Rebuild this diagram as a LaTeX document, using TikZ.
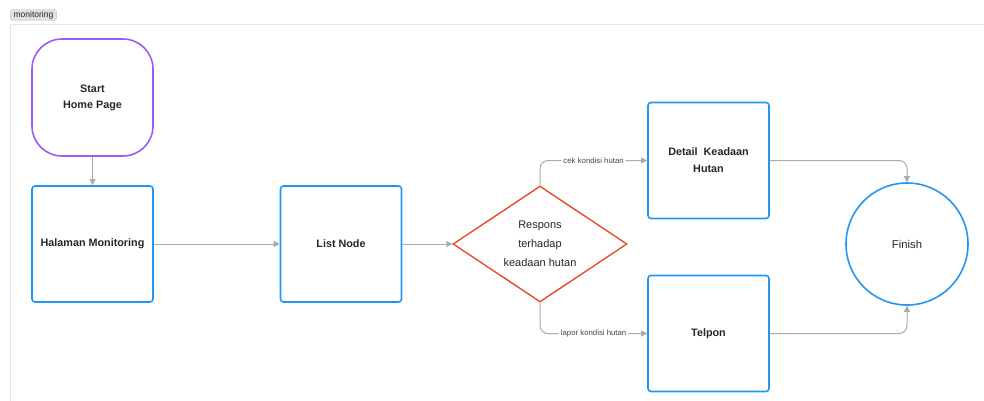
\documentclass[tikz,border=0pt]{standalone}
\usepackage{fontspec}
\setmainfont{Liberation Sans}
\usetikzlibrary{arrows.meta,shapes.geometric}
\definecolor{startpurple}{HTML}{9B5CF6}
\definecolor{boxblue}{HTML}{2196F3}
\definecolor{decred}{HTML}{EB4A2A}
\definecolor{linkgrey}{HTML}{ABABAB}
\definecolor{framegrey}{HTML}{E6E6E6}
\definecolor{txt}{HTML}{262626}
\tikzset{
  x=1pt, y=-1pt,
  every node/.style={text=txt},
  startbox/.style={draw=startpurple, line width=1.6pt, rounded corners=30pt,
    minimum width=121pt, minimum height=117pt, align=center, font=\fontsize{10.8}{16}\selectfont\bfseries},
  procbox/.style={draw=boxblue, line width=1.6pt, rounded corners=3pt,
    minimum width=121pt, minimum height=116pt, align=center, font=\fontsize{10.8}{17}\selectfont\bfseries},
  decision/.style={diamond, draw=decred, line width=1.4pt, aspect=1.5,
    minimum width=174pt, minimum height=116pt, inner sep=0pt, align=center,
    font=\fontsize{11}{19}\selectfont},
  endcircle/.style={circle, draw=boxblue, line width=1.6pt, minimum size=122pt, inner sep=0pt,
    font=\fontsize{11.3}{13}\selectfont},
  link/.style={draw=linkgrey, line width=1pt, rounded corners=8pt,
    -{Triangle[length=6pt,width=6pt]}},
  linklabel/.style={fill=white, inner sep=2pt, font=\fontsize{7.8}{9}\selectfont, text=txt!85},
}
\begin{document}
\begin{tikzpicture}
\useasboundingbox (0,0) rectangle (984,400);
% board frame and its tag
\draw[framegrey, line width=0.8pt, rounded corners=4pt] (10,24) -- (10,410) (10,24) -- (995,24);
\node[draw=black!25, fill=black!12, rounded corners=2pt, inner xsep=3pt, inner ysep=1.5pt,
      font=\fontsize{8.5}{9}\selectfont, text=black!85] (tag) at (33.5,15) {monitoring};

% flow nodes
\node[startbox] (start) at (92.5,97.5) {Start\\Home Page};
\node[procbox] (halaman) at (92.5,244) {Halaman Monitoring};
\node[procbox] (list) at (341,244) {List Node};
\node[decision] (respons) at (540,244) {Respons\\terhadap\\keadaan hutan};
\node[procbox] (detail) at (708.5,160.5) {Detail\ \ Keadaan\\Hutan};
\node[procbox] (telpon) at (708.5,333.5) {Telpon};
\node[endcircle] (finish) at (907,244) {Finish};

% connectors
\draw[link] (start) -- (halaman);
\draw[link] (halaman) -- (list);
\draw[link] (list) -- (respons);
\draw[link] (respons.north) |- node[linklabel, pos=0.75] {cek kondisi hutan} (detail.west);
\draw[link] (respons.south) |- node[linklabel, pos=0.75] {lapor kondisi hutan} (telpon.west);
\draw[link] (detail.east) -| (finish.north);
\draw[link] (telpon.east) -| (finish.south);
\end{tikzpicture}
\end{document}
